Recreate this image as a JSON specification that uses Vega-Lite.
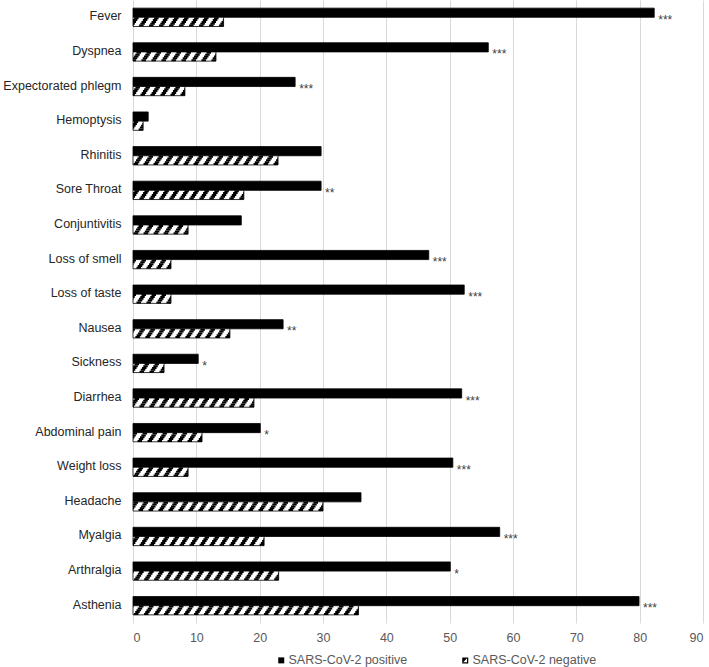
{
  "$schema": "https://vega.github.io/schema/vega-lite/v6.json",
  "width": 570,
  "height": 623,
  "autosize": {"type": "none"},
  "padding": {"left": 133, "top": 0, "right": 6, "bottom": 44},
  "background": "white",
  "config": {
    "font": "Liberation Sans",
    "view": {"stroke": null}
  },
  "datasets": {
    "bars": [
      {"symptom": "Fever", "series": "SARS-CoV-2 positive", "value": 82.3},
      {"symptom": "Fever", "series": "SARS-CoV-2 negative", "value": 14.3},
      {"symptom": "Dyspnea", "series": "SARS-CoV-2 positive", "value": 56.1},
      {"symptom": "Dyspnea", "series": "SARS-CoV-2 negative", "value": 13.1},
      {"symptom": "Expectorated phlegm", "series": "SARS-CoV-2 positive", "value": 25.6},
      {"symptom": "Expectorated phlegm", "series": "SARS-CoV-2 negative", "value": 8.2},
      {"symptom": "Hemoptysis", "series": "SARS-CoV-2 positive", "value": 2.4},
      {"symptom": "Hemoptysis", "series": "SARS-CoV-2 negative", "value": 1.6},
      {"symptom": "Rhinitis", "series": "SARS-CoV-2 positive", "value": 29.7},
      {"symptom": "Rhinitis", "series": "SARS-CoV-2 negative", "value": 22.9},
      {"symptom": "Sore Throat", "series": "SARS-CoV-2 positive", "value": 29.7},
      {"symptom": "Sore Throat", "series": "SARS-CoV-2 negative", "value": 17.5},
      {"symptom": "Conjuntivitis", "series": "SARS-CoV-2 positive", "value": 17.1},
      {"symptom": "Conjuntivitis", "series": "SARS-CoV-2 negative", "value": 8.7},
      {"symptom": "Loss of smell", "series": "SARS-CoV-2 positive", "value": 46.7},
      {"symptom": "Loss of smell", "series": "SARS-CoV-2 negative", "value": 6.0},
      {"symptom": "Loss of taste", "series": "SARS-CoV-2 positive", "value": 52.3},
      {"symptom": "Loss of taste", "series": "SARS-CoV-2 negative", "value": 6.0},
      {"symptom": "Nausea", "series": "SARS-CoV-2 positive", "value": 23.7},
      {"symptom": "Nausea", "series": "SARS-CoV-2 negative", "value": 15.3},
      {"symptom": "Sickness", "series": "SARS-CoV-2 positive", "value": 10.3},
      {"symptom": "Sickness", "series": "SARS-CoV-2 negative", "value": 4.9},
      {"symptom": "Diarrhea", "series": "SARS-CoV-2 positive", "value": 51.9},
      {"symptom": "Diarrhea", "series": "SARS-CoV-2 negative", "value": 19.1},
      {"symptom": "Abdominal pain", "series": "SARS-CoV-2 positive", "value": 20.1},
      {"symptom": "Abdominal pain", "series": "SARS-CoV-2 negative", "value": 10.9},
      {"symptom": "Weight loss", "series": "SARS-CoV-2 positive", "value": 50.5},
      {"symptom": "Weight loss", "series": "SARS-CoV-2 negative", "value": 8.7},
      {"symptom": "Headache", "series": "SARS-CoV-2 positive", "value": 36.0},
      {"symptom": "Headache", "series": "SARS-CoV-2 negative", "value": 30.0},
      {"symptom": "Myalgia", "series": "SARS-CoV-2 positive", "value": 57.9},
      {"symptom": "Myalgia", "series": "SARS-CoV-2 negative", "value": 20.7},
      {"symptom": "Arthralgia", "series": "SARS-CoV-2 positive", "value": 50.1},
      {"symptom": "Arthralgia", "series": "SARS-CoV-2 negative", "value": 23.0},
      {"symptom": "Asthenia", "series": "SARS-CoV-2 positive", "value": 79.9},
      {"symptom": "Asthenia", "series": "SARS-CoV-2 negative", "value": 35.6}
    ],
    "sig": [
      {"symptom": "Fever", "value": 82.3, "sig": "***"},
      {"symptom": "Dyspnea", "value": 56.1, "sig": "***"},
      {"symptom": "Expectorated phlegm", "value": 25.6, "sig": "***"},
      {"symptom": "Sore Throat", "value": 29.7, "sig": "**"},
      {"symptom": "Loss of smell", "value": 46.7, "sig": "***"},
      {"symptom": "Loss of taste", "value": 52.3, "sig": "***"},
      {"symptom": "Nausea", "value": 23.7, "sig": "**"},
      {"symptom": "Sickness", "value": 10.3, "sig": "*"},
      {"symptom": "Diarrhea", "value": 51.9, "sig": "***"},
      {"symptom": "Abdominal pain", "value": 20.1, "sig": "*"},
      {"symptom": "Weight loss", "value": 50.5, "sig": "***"},
      {"symptom": "Myalgia", "value": 57.9, "sig": "***"},
      {"symptom": "Arthralgia", "value": 50.1, "sig": "*"},
      {"symptom": "Asthenia", "value": 79.9, "sig": "***"}
    ]
  },
  "layer": [
    {
      "data": {"name": "bars"},
      "mark": {"type": "bar", "stroke": "#000000", "strokeWidth": 0.8},
      "encoding": {
        "y": {
          "field": "symptom", "type": "nominal",
          "sort": ["Fever","Dyspnea","Expectorated phlegm","Hemoptysis","Rhinitis","Sore Throat","Conjuntivitis","Loss of smell","Loss of taste","Nausea","Sickness","Diarrhea","Abdominal pain","Weight loss","Headache","Myalgia","Arthralgia","Asthenia"],
          "scale": {"paddingInner": 0.47, "paddingOuter": 0.235},
          "axis": {"title": null, "domain": false, "ticks": false, "labelPadding": 12, "labelFontSize": 12.5, "labelColor": "#262626", "labelOffset": -1}
        },
        "yOffset": {
          "field": "series", "type": "nominal",
          "sort": ["SARS-CoV-2 positive", "SARS-CoV-2 negative"],
          "scale": {"paddingInner": 0, "paddingOuter": 0}
        },
        "x": {
          "field": "value", "type": "quantitative",
          "scale": {"domain": [0, 90], "nice": false},
          "axis": {"title": null, "domain": false, "ticks": false, "grid": true, "gridColor": "#d9d9d9", "gridWidth": 1, "values": [0,10,20,30,40,50,60,70,80,90], "labelPadding": 8, "labelFontSize": 12.5, "labelColor": "#595959"}
        },
        "fill": {
          "condition": {"test": "datum.series === 'SARS-CoV-2 negative'", "value": "#ffffff"},
          "value": "#000000"
        }
      }
    },
    {
      "data": {"name": "bars"},
      "transform": [{"filter": "datum.series === 'SARS-CoV-2 negative'"}],
      "mark": {"type": "rule", "strokeWidth": 2, "strokeDash": [4.5, 5.5], "strokeDashOffset": 5, "color": "#000000"},
      "encoding": {
        "y": {"field": "symptom", "type": "nominal", "sort": ["Fever","Dyspnea","Expectorated phlegm","Hemoptysis","Rhinitis","Sore Throat","Conjuntivitis","Loss of smell","Loss of taste","Nausea","Sickness","Diarrhea","Abdominal pain","Weight loss","Headache","Myalgia","Arthralgia","Asthenia"], "bandPosition": 0.55},
        "x": {"field": "value", "type": "quantitative"},
        "x2": {"datum": 0}
      }
    },
    {
      "data": {"name": "bars"},
      "transform": [{"filter": "datum.series === 'SARS-CoV-2 negative'"}],
      "mark": {"type": "rule", "strokeWidth": 2, "strokeDash": [4.5, 5.5], "strokeDashOffset": 3.75, "color": "#000000"},
      "encoding": {
        "y": {"field": "symptom", "type": "nominal", "sort": ["Fever","Dyspnea","Expectorated phlegm","Hemoptysis","Rhinitis","Sore Throat","Conjuntivitis","Loss of smell","Loss of taste","Nausea","Sickness","Diarrhea","Abdominal pain","Weight loss","Headache","Myalgia","Arthralgia","Asthenia"], "bandPosition": 0.65},
        "x": {"field": "value", "type": "quantitative"},
        "x2": {"datum": 0}
      }
    },
    {
      "data": {"name": "bars"},
      "transform": [{"filter": "datum.series === 'SARS-CoV-2 negative'"}],
      "mark": {"type": "rule", "strokeWidth": 2, "strokeDash": [4.5, 5.5], "strokeDashOffset": 2.5, "color": "#000000"},
      "encoding": {
        "y": {"field": "symptom", "type": "nominal", "sort": ["Fever","Dyspnea","Expectorated phlegm","Hemoptysis","Rhinitis","Sore Throat","Conjuntivitis","Loss of smell","Loss of taste","Nausea","Sickness","Diarrhea","Abdominal pain","Weight loss","Headache","Myalgia","Arthralgia","Asthenia"], "bandPosition": 0.75},
        "x": {"field": "value", "type": "quantitative"},
        "x2": {"datum": 0}
      }
    },
    {
      "data": {"name": "bars"},
      "transform": [{"filter": "datum.series === 'SARS-CoV-2 negative'"}],
      "mark": {"type": "rule", "strokeWidth": 2, "strokeDash": [4.5, 5.5], "strokeDashOffset": 1.25, "color": "#000000"},
      "encoding": {
        "y": {"field": "symptom", "type": "nominal", "sort": ["Fever","Dyspnea","Expectorated phlegm","Hemoptysis","Rhinitis","Sore Throat","Conjuntivitis","Loss of smell","Loss of taste","Nausea","Sickness","Diarrhea","Abdominal pain","Weight loss","Headache","Myalgia","Arthralgia","Asthenia"], "bandPosition": 0.85},
        "x": {"field": "value", "type": "quantitative"},
        "x2": {"datum": 0}
      }
    },
    {
      "data": {"name": "bars"},
      "transform": [{"filter": "datum.series === 'SARS-CoV-2 negative'"}],
      "mark": {"type": "rule", "strokeWidth": 2, "strokeDash": [4.5, 5.5], "strokeDashOffset": 0, "color": "#000000"},
      "encoding": {
        "y": {"field": "symptom", "type": "nominal", "sort": ["Fever","Dyspnea","Expectorated phlegm","Hemoptysis","Rhinitis","Sore Throat","Conjuntivitis","Loss of smell","Loss of taste","Nausea","Sickness","Diarrhea","Abdominal pain","Weight loss","Headache","Myalgia","Arthralgia","Asthenia"], "bandPosition": 0.95},
        "x": {"field": "value", "type": "quantitative"},
        "x2": {"datum": 0}
      }
    },
    {
      "data": {"name": "sig"},
      "mark": {"type": "text", "align": "left", "baseline": "middle", "dx": 4, "fontSize": 12, "color": "#404040"},
      "encoding": {
        "y": {"field": "symptom", "type": "nominal", "sort": ["Fever","Dyspnea","Expectorated phlegm","Hemoptysis","Rhinitis","Sore Throat","Conjuntivitis","Loss of smell","Loss of taste","Nausea","Sickness","Diarrhea","Abdominal pain","Weight loss","Headache","Myalgia","Arthralgia","Asthenia"], "bandPosition": 0.64},
        "x": {"field": "value", "type": "quantitative"},
        "text": {"field": "sig"}
      }
    },
    {
      "data": {"name": "bars"},
      "transform": [{"filter": "false"}],
      "mark": {"type": "point", "filled": true, "color": "#000000"},
      "encoding": {
        "y": {"field": "symptom", "type": "nominal", "sort": ["Fever","Dyspnea","Expectorated phlegm","Hemoptysis","Rhinitis","Sore Throat","Conjuntivitis","Loss of smell","Loss of taste","Nausea","Sickness","Diarrhea","Abdominal pain","Weight loss","Headache","Myalgia","Arthralgia","Asthenia"]},
        "x": {"field": "value", "type": "quantitative"},
        "shape": {
          "field": "series", "type": "nominal",
          "scale": {"domain": ["SARS-CoV-2 positive", "SARS-CoV-2 negative"], "range": ["square", "M-1,-1H1V1H-1Z M-0.6,-0.6V0.6H0.6V-0.6Z M-0.6,-0.6H0.5L-0.6,0.5Z"]},
          "legend": {
            "orient": "none", "legendX": 142, "legendY": 654, "direction": "horizontal",
            "title": null, "symbolSize": 36, "labelFontSize": 12.5, "labelColor": "#595959",
            "labelOffset": 1, "columnPadding": 51, "padding": 0, "symbolStrokeWidth": 0,
            "symbolFillColor": "#000000", "symbolOpacity": 1
          }
        }
      }
    }
  ]
}
